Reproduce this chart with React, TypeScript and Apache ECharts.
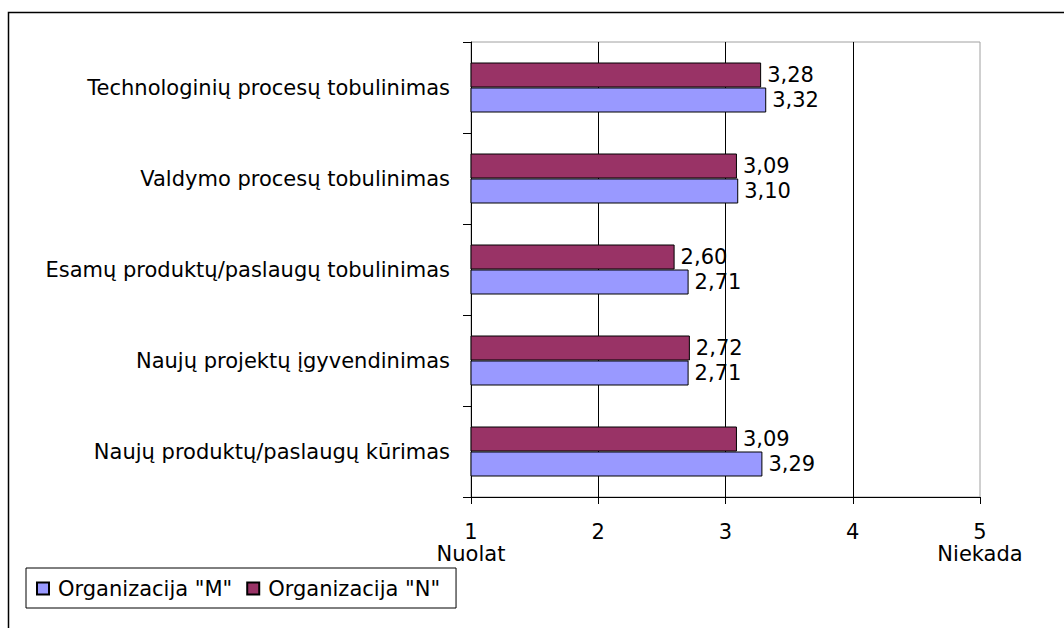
import React, { useEffect, useRef } from "react";
import * as echarts from "echarts";

// Survey topics, top to bottom
const categories = [
  "Technologinių procesų tobulinimas",
  "Valdymo procesų tobulinimas",
  "Esamų produktų/paslaugų tobulinimas",
  "Naujų projektų įgyvendinimas",
  "Naujų produktų/paslaugų kūrimas",
];

// Mean scores (1 = Nuolat, 5 = Niekada)
const valuesM = [3.32, 3.1, 2.71, 2.71, 3.29];
const valuesN = [3.28, 3.09, 2.6, 2.72, 3.09];

const seriesNames = ['Organizacija "M"', 'Organizacija "N"'];

// Scale ticks and the words under the scale ends
const scaleTicks = [1, 2, 3, 4, 5];
const scaleWords = ["Nuolat", "", "", "", "Niekada"];

const FONT = "DejaVu Sans";
const FS = 21;

const fmt = (v: number) => v.toFixed(2).replace(".", ",");

export default function App() {
  const ref = useRef<HTMLDivElement>(null);

  useEffect(() => {
    if (!ref.current) return;
    const chart = echarts.init(ref.current, null, { renderer: "svg" });

    const barLabel = {
      show: true,
      position: "right",
      distance: 6,
      color: "#000",
      fontFamily: FONT,
      fontSize: FS,
      formatter: (p: any) => fmt(p.value),
    };

    chart.setOption({
      animation: false,
      backgroundColor: "#fff",
      textStyle: { fontFamily: FONT, color: "#000" },
      grid: {
        left: 471,
        top: 42,
        width: 509,
        height: 455,
        show: true,
        borderColor: "#a0a0a0",
        borderWidth: 1,
        containLabel: false,
      },
      legend: {
        left: 26,
        top: 568,
        orient: "horizontal",
        data: seriesNames,
        icon: "rect",
        itemWidth: 12,
        itemHeight: 12,
        itemGap: 14,
        borderColor: "#000",
        borderWidth: 1,
        padding: [10, 16, 9, 10],
        textStyle: {
          fontFamily: FONT,
          fontSize: FS,
          color: "#000",
          padding: [0, 0, 0, 4],
        },
      },
      xAxis: {
        type: "value",
        min: scaleTicks[0],
        max: scaleTicks[scaleTicks.length - 1],
        interval: 1,
        axisLine: { show: true, lineStyle: { color: "#000", width: 1 } },
        axisTick: { show: true, length: 7, lineStyle: { color: "#000" } },
        axisLabel: {
          margin: 24,
          fontFamily: FONT,
          fontSize: FS,
          lineHeight: 22,
          color: "#000",
          formatter: (v: number) => {
            const word = scaleWords[scaleTicks.indexOf(v)];
            return word ? `${v}\n${word}` : `${v}`;
          },
        },
        splitLine: {
          show: true,
          showMinLine: false,
          showMaxLine: false,
          lineStyle: { color: "#000", width: 1 },
        },
      },
      yAxis: {
        type: "category",
        inverse: true,
        data: categories,
        axisLine: { show: true, lineStyle: { color: "#000", width: 1 } },
        axisTick: { show: true, length: 8, lineStyle: { color: "#000" } },
        axisLabel: {
          margin: 21,
          fontFamily: FONT,
          fontSize: FS,
          color: "#000",
        },
        splitLine: { show: false },
      },
      series: [
        {
          name: seriesNames[1],
          type: "bar",
          data: valuesN,
          barWidth: 25,
          barGap: "0%",
          itemStyle: { color: "#993366", borderColor: "#000", borderWidth: 1 },
          label: barLabel,
        },
        {
          name: seriesNames[0],
          type: "bar",
          data: valuesM,
          barWidth: 25,
          barGap: "0%",
          itemStyle: { color: "#9999FF", borderColor: "#000", borderWidth: 1 },
          label: barLabel,
        },
      ],
      graphic: [
        {
          type: "rect",
          silent: true,
          shape: { x: 8.5, y: 12.5, width: 1200, height: 800 },
          style: { fill: "none", stroke: "#000", lineWidth: 1.5 },
          z: 100,
        },
      ],
    });

    return () => chart.dispose();
  }, []);

  return (
    <div
      ref={ref}
      style={{ position: "absolute", left: 0, top: 0, width: 1064, height: 628 }}
    />
  );
}
